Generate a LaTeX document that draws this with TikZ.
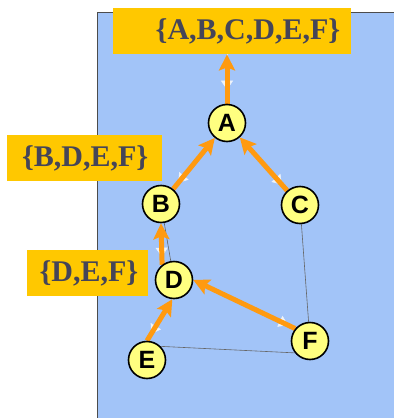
\documentclass[tikz,border=0pt]{standalone}
\usepackage{fontspec}
\setmainfont{Liberation Serif}
\newfontfamily\letterfont{Liberation Sans}
\usetikzlibrary{arrows.meta}

\definecolor{skyblue}{HTML}{A2C4F8}
\definecolor{gold}{HTML}{FFC800}
\definecolor{paleyellow}{HTML}{FFFF80}
\definecolor{tangerine}{HTML}{FF9A10}
\definecolor{slate}{HTML}{454558}
\definecolor{mist}{HTML}{EEF3FA}

\pgfdeclarelayer{panel}
\pgfdeclarelayer{edges}
\pgfsetlayers{panel,edges,main}

\begin{document}
\begin{tikzpicture}[x=1pt,y=-1pt,
   vertex/.style={circle,draw=black,line width=1.6pt,fill=paleyellow,minimum size=37pt,inner sep=0pt,font=\letterfont\bfseries\fontsize{25}{25}\selectfont},
   setbox/.style={fill=gold,minimum height=46pt,align=right,text=slate,font=\bfseries\fontsize{30}{30}\selectfont},
   uplink/.style={line width=5pt,tangerine,-{Stealth[length=16pt,width=16pt,inset=3pt]}},
   downlink/.style={line width=0.5pt,mist,-{Triangle[length=9pt,width=12pt]},shorten >=8pt},
   plain/.style={line width=0.6pt,black!60}]
   \useasboundingbox (0,0) rectangle (394,418);
   % the tree
   \node[vertex] (A) at (227,123) {A};
   \node[vertex] (B) at (161,204) {B};
   \node[vertex] (C) at (300,205) {C};
   \node[vertex] (D) at (174,280) {D};
   \node[vertex] (E) at (147,360) {E};
   \node[vertex] (F) at (310,341) {F};
   % background panel and the sets
   \begin{pgfonlayer}{panel}
   \fill[skyblue] (97,12) rectangle (394,418);
   \draw[line width=0.8pt,black!70] (97,418) -- (97,12) -- (394,12);
   \node[setbox,anchor=north west,inner xsep=11pt,text width=216pt] (setA) at (113,8) {\{A,B,C,D,E,F\}};
   \node[setbox,anchor=north west,inner xsep=14pt,text width=127pt] (setB) at (7,135) {\{B,D,E,F\}};
   \node[setbox,anchor=north west,inner xsep=10pt,text width=101pt] (setD) at (27,250) {\{D,E,F\}};
   \end{pgfonlayer}
   \coordinate (top) at (A.north |- setA.south);
   \begin{pgfonlayer}{edges}
   % thin edges
   \draw[plain] (B) -- (D);
   \draw[plain] (C) -- (F);
   \draw[plain] (E.45) -- (F.218);
   % down and up
   \draw[downlink,shorten >=14pt] (top) -- (A.north);
   \draw[uplink] (A.north) -- (top);
   \draw[downlink] (A) -- (B);
   \draw[uplink] (B) -- (A);
   \draw[downlink] (A) -- (C);
   \draw[uplink] (C) -- (A);
   \draw[downlink] (B.south) -- (D.128);
   \draw[uplink] (D.128) -- (B.south);
   \draw[downlink] (D.265) -- (E.north);
   \draw[uplink] (E.north) -- (D.265);
   \draw[downlink] (D.east) -- (F.140);
   \draw[uplink] (F.140) -- (D.east);
   \end{pgfonlayer}
\end{tikzpicture}
\end{document}
